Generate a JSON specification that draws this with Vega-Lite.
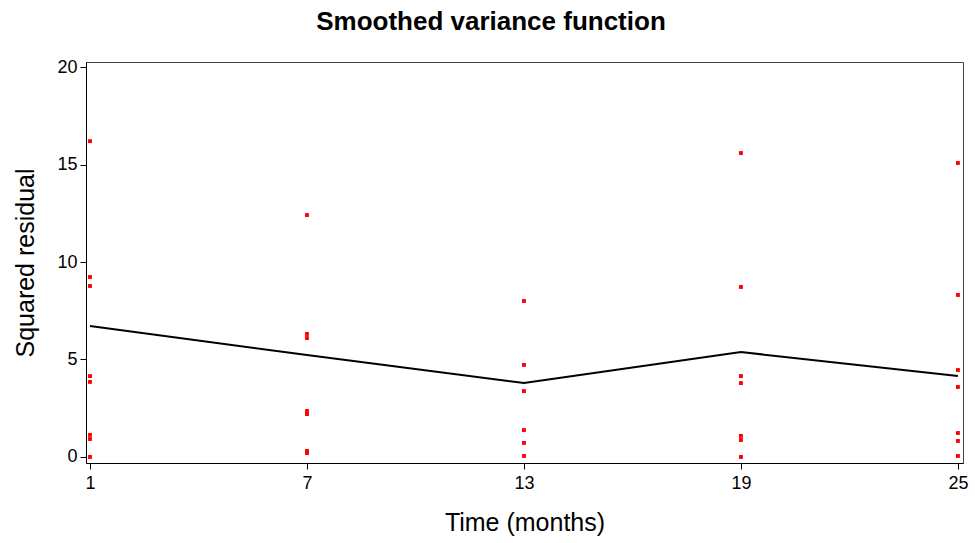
{
  "$schema": "https://vega.github.io/schema/vega-lite/v6.json",
  "width": 877,
  "height": 401,
  "autosize": {"type": "none"},
  "padding": {"left": 86, "top": 62, "right": 12, "bottom": 80},
  "background": "white",
  "title": {
    "text": "Smoothed variance function",
    "fontSize": 26,
    "fontWeight": "bold",
    "font": "Liberation Sans",
    "color": "black",
    "anchor": "middle",
    "frame": "bounds",
    "offset": 23
  },
  "config": {
    "view": {"stroke": "#444", "strokeWidth": 1},
    "axis": {
      "labelFont": "Liberation Sans",
      "titleFont": "Liberation Sans",
      "labelFontSize": 18,
      "titleFontSize": 25,
      "titleFontWeight": "normal",
      "labelColor": "black",
      "titleColor": "black",
      "domainColor": "black",
      "tickColor": "black",
      "tickSize": 6,
      "grid": false
    }
  },
  "datasets": {
    "residuals": [
      {"time": 1, "resid": 16.2}, {"time": 1, "resid": 9.23}, {"time": 1, "resid": 8.77},
      {"time": 1, "resid": 4.15}, {"time": 1, "resid": 3.85}, {"time": 1, "resid": 1.13},
      {"time": 1, "resid": 0.92}, {"time": 1, "resid": 0.0},
      {"time": 7, "resid": 12.41}, {"time": 7, "resid": 6.31}, {"time": 7, "resid": 6.1},
      {"time": 7, "resid": 2.36}, {"time": 7, "resid": 2.2}, {"time": 7, "resid": 0.31},
      {"time": 7, "resid": 0.2},
      {"time": 13, "resid": 8.0}, {"time": 13, "resid": 4.72}, {"time": 13, "resid": 3.38},
      {"time": 13, "resid": 1.38}, {"time": 13, "resid": 0.72}, {"time": 13, "resid": 0.05},
      {"time": 19, "resid": 15.59}, {"time": 19, "resid": 8.72}, {"time": 19, "resid": 4.15},
      {"time": 19, "resid": 3.79}, {"time": 19, "resid": 1.08}, {"time": 19, "resid": 0.87},
      {"time": 19, "resid": 0.0},
      {"time": 25, "resid": 15.08}, {"time": 25, "resid": 8.31}, {"time": 25, "resid": 4.46},
      {"time": 25, "resid": 3.59}, {"time": 25, "resid": 1.23}, {"time": 25, "resid": 0.82},
      {"time": 25, "resid": 0.05}
    ],
    "smooth": [
      {"time": 1, "fit": 6.72},
      {"time": 7, "fit": 5.23},
      {"time": 13, "fit": 3.79},
      {"time": 19, "fit": 5.38},
      {"time": 25, "fit": 4.15}
    ]
  },
  "layer": [
    {
      "data": {"name": "smooth"},
      "mark": {"type": "line", "color": "black", "strokeWidth": 2},
      "encoding": {
        "x": {
          "field": "time", "type": "quantitative",
          "scale": {"domain": [0.89, 25.14], "nice": false, "zero": false},
          "axis": {"values": [1, 7, 13, 19, 25], "title": "Time (months)", "labelPadding": 5, "titlePadding": 18}
        },
        "y": {
          "field": "fit", "type": "quantitative",
          "scale": {"domain": [-0.31, 20.26], "nice": false, "zero": false},
          "axis": {"values": [0, 5, 10, 15, 20], "title": "Squared residual", "labelPadding": 3, "titlePadding": 18}
        }
      }
    },
    {
      "data": {"name": "residuals"},
      "mark": {"type": "point", "shape": "square", "filled": true, "color": "red", "opacity": 1, "size": 15},
      "encoding": {
        "x": {"field": "time", "type": "quantitative"},
        "y": {"field": "resid", "type": "quantitative"}
      }
    }
  ]
}
